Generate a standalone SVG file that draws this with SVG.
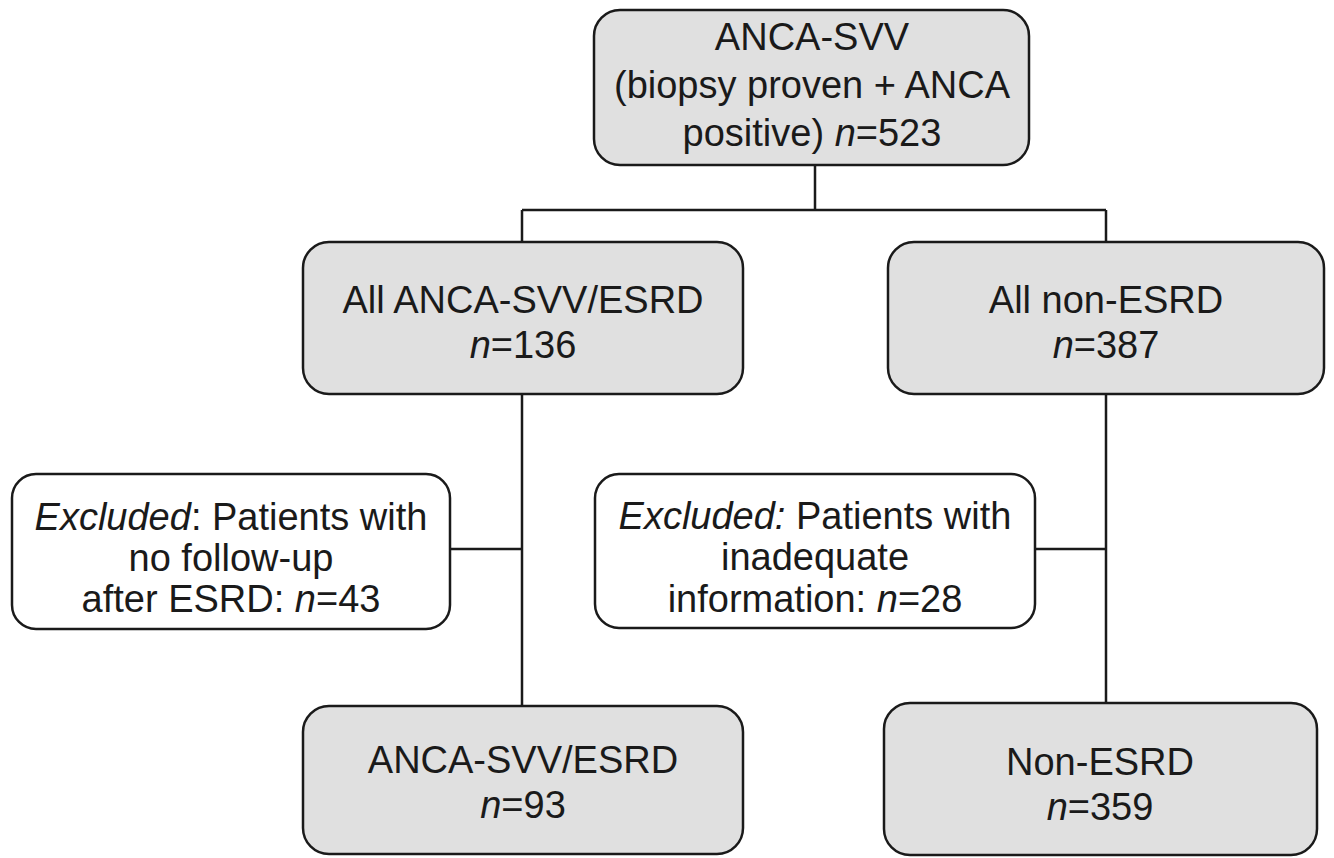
<svg xmlns="http://www.w3.org/2000/svg" width="1334" height="858" viewBox="0 0 1334 858">
<style>
.box{stroke:#1a1a1a;stroke-width:2.5}
.g{fill:#e0e0e0}
.w{fill:#ffffff}
text{font-family:"Liberation Sans",Arial,sans-serif;font-size:38px;fill:#1a1a1a;text-anchor:middle}
.i{font-style:italic}
.c{stroke:#1a1a1a;stroke-width:2.5;fill:none}
</style>
<rect width="1334" height="858" fill="#ffffff"/>
<g id="connectors">
<path class="c" d="M815 165 V210 M522 210 H1106 M522 210 V242 M1106 210 V242"/>
<path class="c" d="M522 394 V706 M450 549 H522"/>
<path class="c" d="M1106 394 V703 M1035 549 H1106"/>
</g>
<g id="n_top">
<rect class="box g" x="594" y="10" width="435" height="155" rx="26"/>
<text x="812" y="50">ANCA-SVV</text>
<text x="812" y="98">(biopsy proven + ANCA</text>
<text x="812" y="146">positive) <tspan class="i">n</tspan>=523</text>
</g>
<g id="n_esrd_all">
<rect class="box g" x="303" y="242" width="440" height="152" rx="26"/>
<text x="523" y="313">All ANCA-SVV/ESRD</text>
<text x="523" y="358"><tspan class="i">n</tspan>=136</text>
</g>
<g id="n_nonesrd_all">
<rect class="box g" x="888" y="242" width="436" height="152" rx="26"/>
<text x="1106" y="313">All non-ESRD</text>
<text x="1106" y="358"><tspan class="i">n</tspan>=387</text>
</g>
<g id="n_excl_left">
<rect class="box w" x="12" y="474" width="438" height="155" rx="24"/>
<text x="231" y="530"><tspan class="i">Excluded</tspan>: Patients with</text>
<text x="231" y="571">no follow-up</text>
<text x="231" y="612">after ESRD: <tspan class="i">n</tspan>=43</text>
</g>
<g id="n_excl_right">
<rect class="box w" x="595" y="474" width="440" height="154" rx="24"/>
<text x="815" y="529"><tspan class="i">Excluded:</tspan> Patients with</text>
<text x="815" y="570">inadequate</text>
<text x="815" y="612">information: <tspan class="i">n</tspan>=28</text>
</g>
<g id="n_esrd">
<rect class="box g" x="303" y="706" width="440" height="148" rx="26"/>
<text x="523" y="773">ANCA-SVV/ESRD</text>
<text x="523" y="818"><tspan class="i">n</tspan>=93</text>
</g>
<g id="n_nonesrd">
<rect class="box g" x="884" y="703" width="433" height="152" rx="26"/>
<text x="1100" y="775">Non-ESRD</text>
<text x="1100" y="820"><tspan class="i">n</tspan>=359</text>
</g>
</svg>
